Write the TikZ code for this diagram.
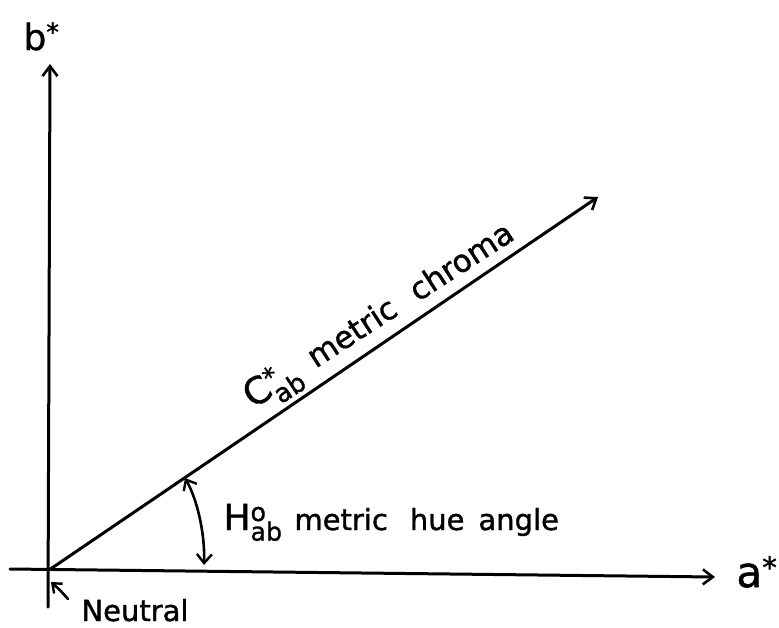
\documentclass[tikz,border=0pt]{standalone}
\usepackage{fontspec}
\setmainfont{DejaVu Sans}[FakeBold=1.2]
\usetikzlibrary{arrows.meta}
\begin{document}
\begin{tikzpicture}[x=1pt,y=-1pt, line width=3pt, line cap=round,
  barb/.style={-{Straight Barb[length=10pt,width=15pt,line width=2.6pt]}},
  lbl/.style={font=\fontsize{29}{34}\selectfont, inner sep=0pt}]
\useasboundingbox (0,0) rectangle (779,627);
\coordinate (O) at (49,570);
\coordinate (btip) at (50,64);
\coordinate (bbot) at (48,607);
\coordinate (aleft) at (10,569);
\coordinate (atip) at (715,577);
\coordinate (ctip) at (598,197);
\coordinate (h1) at (185,478);
\coordinate (h2) at (204,565);
\coordinate (n1) at (68,599);
\coordinate (n2) at (51,582);
\draw[barb] (bbot) -- (btip);
\draw[barb] (aleft) -- (atip);
\draw[barb] (O) -- (ctip);
\draw[{Straight Barb[length=9pt,width=15pt,line width=2.4pt]}-{Straight Barb[length=9pt,width=15pt,line width=2.4pt]}, line width=2.6pt]
  (h1) .. controls (199,503) and (205,538) .. (h2);
\draw[-{Straight Barb[length=8pt,width=13pt,line width=2.4pt]}, line width=2.6pt]
  (n1) .. controls (60,590) .. (n2);
\node[lbl, font=\fontsize{36}{40}\selectfont, anchor=base west] (b) at (22,50) {b\textsuperscript{*}};
\node[lbl, font=\fontsize{42}{46}\selectfont, anchor=base west] (a) at (735,587) {a\textsuperscript{*}};
\node[lbl, font=\fontsize{29}{32}\selectfont, anchor=base west] (neutral) at (80,621) {Neutral};
\node[lbl, anchor=base west] (hue) at (222,530) {{\fontsize{36}{40}\selectfont H\rlap{\textsuperscript{o}}\textsubscript{ab}}\hspace{12pt}metric\hspace{22pt}hue\hspace{14pt}angle};
\node[lbl, font=\fontsize{31}{34}\selectfont, anchor=base west, rotate=33] (chroma) at (252,410) {{\fontsize{37}{40}\selectfont C\rlap{\textsuperscript{*}}\textsubscript{ab}}\hspace{16pt}metric\hspace{22pt}chroma};
\end{tikzpicture}
\end{document}
